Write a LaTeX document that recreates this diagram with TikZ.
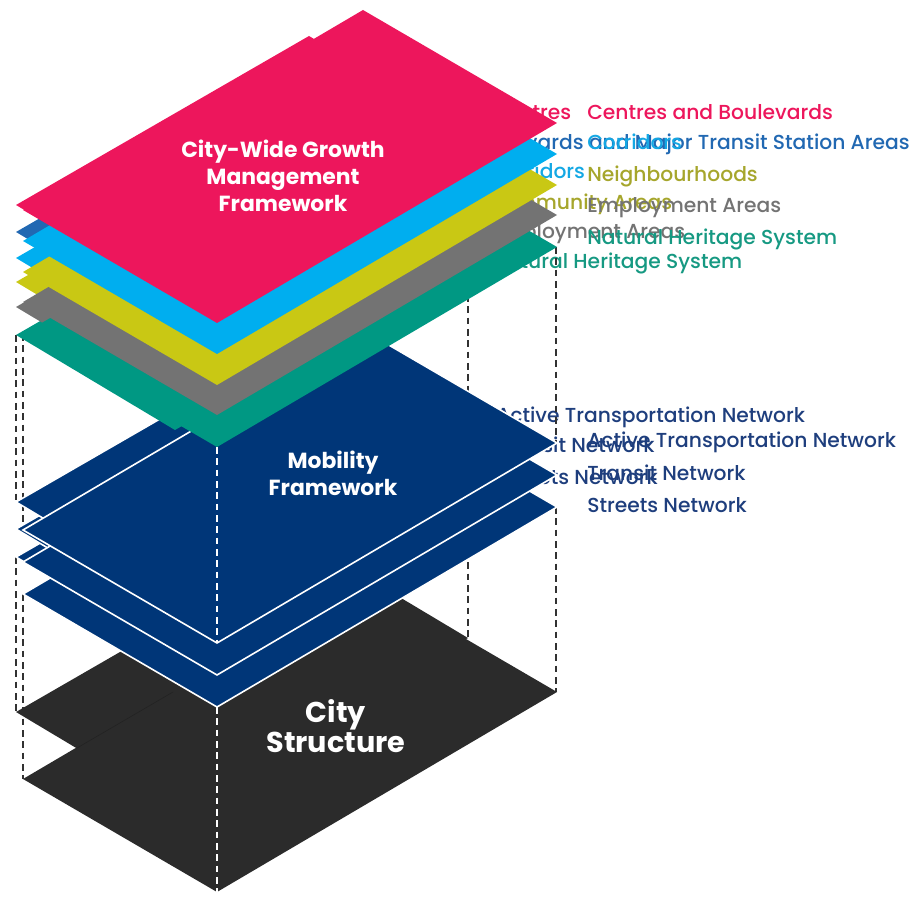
\documentclass[tikz,border=0pt]{standalone}
\usepackage{fontspec}
\setmainfont{Poppins}
\newfontfamily\labelfont{Poppins Medium}
\usepackage{xcolor}

\definecolor{cwPink}{RGB}{237,22,92}
\definecolor{cwBlue}{RGB}{33,104,178}
\definecolor{cwSky}{RGB}{0,174,239}
\definecolor{cwSkyTxt}{RGB}{20,168,228}
\definecolor{cwOlive}{RGB}{201,200,20}
\definecolor{cwOliveTxt}{RGB}{166,166,44}
\definecolor{cwGray}{RGB}{115,115,115}
\definecolor{cwTeal}{RGB}{0,152,131}
\definecolor{cwTealTxt}{RGB}{22,153,130}
\definecolor{cwNavy}{RGB}{0,54,120}
\definecolor{cwNavyTxt}{RGB}{30,62,125}
\definecolor{cwBlack}{RGB}{43,43,43}
\definecolor{cwGuide}{RGB}{50,50,50}

\begin{document}
\begin{tikzpicture}[x=0.75pt,y=0.75pt,yscale=-1,xscale=1,
  mobLayer/.style={fill=cwNavy,draw=white,line width=1.2pt,line join=miter},
  guide/.style={draw=cwGuide,line width=1.2pt,dash pattern=on 5pt off 3.5pt},
  guideWhite/.style={guide,draw=white},
  lbl/.style={anchor=base west,inner sep=0pt,font=\labelfont\fontsize{15.2}{17}\selectfont},
  title/.style={white,align=center,inner sep=0pt,font=\bfseries\fontsize{16.4}{20}\selectfont}]
\useasboundingbox (0,0) rectangle (914,898);

% corners that the guide lines join
\coordinate (tealAL) at (16,335);
\coordinate (tealAR) at (468,261);
\coordinate (tealBL) at (23,334);
\coordinate (tealBBo) at (217,447);
\coordinate (tealBR) at (556,247);
\coordinate (mobAL1) at (16,502);
\coordinate (mobAL3) at (16,557);
\coordinate (mobAR1) at (468,428);
\coordinate (mobAR3) at (468,483);
\coordinate (mobBL1) at (23,530);
\coordinate (mobBL3) at (23,594);
\coordinate (mobBBo1) at (217,643);
\coordinate (mobBBo3) at (217,707);
\coordinate (mobBR1) at (556,443);
\coordinate (mobBR3) at (556,507);
\coordinate (cityAL) at (16,712);
\coordinate (cityAR) at (468,638);
\coordinate (cityBL) at (23,779);
\coordinate (cityBBo) at (217,892);
\coordinate (cityBR) at (556,692);

% Text Node (labels behind the layers)
\node[lbl,cwPink] (labCentresA) at (491,120) {Centres};
\node[lbl,cwBlue] (labBoulevardsA) at (469,150) {Boulevards and Major Transit Station Areas};
\node[lbl,cwSkyTxt] (labCorridorsA) at (490,179) {Corridors};
\node[lbl,cwOliveTxt] (labCommunityA) at (486,210) {Community Areas};
\node[lbl,cwGray] (labEmploymentA) at (491,239) {Employment Areas};
\node[lbl,cwTealTxt] (labHeritageA) at (492,269) {Natural Heritage System};
\node[lbl,cwNavyTxt] (labActiveA) at (496,423) {Active Transportation Network};
\node[lbl,cwNavyTxt] (labTransitA) at (496,453) {Transit Network};
\node[lbl,cwNavyTxt] (labStreetsA) at (498,484) {Streets Network};

%Dashed Lines
\draw[guide] (tealAL) -- (mobAL1) (mobAL3) -- (cityAL);
\draw[guide] (tealBL) -- (mobBL1) (mobBL3) -- (cityBL);
\draw[guide] (tealAR) -- (mobAR1) (mobAR3) -- (cityAR);
\draw[guide] (tealBR) -- (mobBR1) (mobBR3) -- (cityBR);

%Shape: City Structure
\fill[cwBlack] (cityAL) -- ++(293,-169) -- ++(159,95) -- ++(-293,169) -- cycle;
\fill[cwBlack] (cityBL) -- ++(340,-200) -- ++(194,113) -- ++(-340,200) -- cycle;
\draw[cwBlack!80!black,line width=0.4pt] (77,748) -- (173,692);

%Shape: Mobility layers
\draw[mobLayer] (16,557) -- ++(293,-169) -- ++(159,95) -- ++(-293,169) -- cycle;
\draw[mobLayer] (16,529) -- ++(293,-169) -- ++(159,95) -- ++(-293,169) -- cycle;
\draw[mobLayer] (mobAL1) -- ++(293,-169) -- ++(159,95) -- ++(-293,169) -- cycle;
\draw[mobLayer] (mobBL3) -- ++(340,-200) -- ++(194,113) -- ++(-340,200) -- cycle;
\draw[mobLayer] (23,562) -- ++(340,-200) -- ++(194,113) -- ++(-340,200) -- cycle;
\draw[mobLayer] (mobBL1) -- ++(340,-200) -- ++(194,113) -- ++(-340,200) -- cycle;

%Dashed Lines on the layers
\draw[guideWhite] (tealBBo) -- (mobBBo1) (mobBBo3) -- (cityBBo);

%Shape: Growth layers, first outline
\fill[cwTeal] (tealAL) -- ++(293,-169) -- ++(159,95) -- ++(-293,169) -- cycle;
\fill[cwGray] (16,307) -- ++(293,-169) -- ++(159,95) -- ++(-293,169) -- cycle;
\fill[cwOlive] (16,282) -- ++(293,-169) -- ++(159,95) -- ++(-293,169) -- cycle;
\fill[cwSky] (16,258) -- ++(293,-169) -- ++(159,95) -- ++(-293,169) -- cycle;
\fill[cwBlue] (16,232) -- ++(293,-169) -- ++(159,95) -- ++(-293,169) -- cycle;
\fill[cwPink] (16,205) -- ++(293,-169) -- ++(159,95) -- ++(-293,169) -- cycle;

%Shape: Growth layers, second outline
\fill[cwTeal] (tealBL) -- ++(340,-200) -- ++(194,113) -- ++(-340,200) -- cycle;
\fill[cwGray] (23,302) -- ++(340,-200) -- ++(194,113) -- ++(-340,200) -- cycle;
\fill[cwOlive] (23,272) -- ++(340,-200) -- ++(194,113) -- ++(-340,200) -- cycle;
\fill[cwSky] (23,241) -- ++(340,-200) -- ++(194,113) -- ++(-340,200) -- cycle;
\fill[cwPink] (23,210) -- ++(340,-200) -- ++(194,113) -- ++(-340,200) -- cycle;

% Text Node (titles)
\node[title] (growthTitle) at (283,176) {City-Wide Growth\\Management\\Framework};
\node[title] (mobilityTitle) at (333,473) {Mobility\\Framework};
\node[title,font=\bfseries\fontsize{21.5}{22.5}\selectfont] (cityTitle) at (336,726) {City\\Structure};

% Text Node (labels)
\node[lbl,cwPink] (labCentresB) at (587,120) {Centres and Boulevards};
\node[lbl,cwSkyTxt] (labCorridorsB) at (587,150) {Corridors};
\node[lbl,cwOliveTxt] (labNeighbourhoodsB) at (587,182) {Neighbourhoods};
\node[lbl,cwGray] (labEmploymentB) at (587,213) {Employment Areas};
\node[lbl,cwTealTxt] (labHeritageB) at (587,245) {Natural Heritage System};
\node[lbl,cwNavyTxt] (labActiveB) at (587,448) {Active Transportation Network};
\node[lbl,cwNavyTxt] (labTransitB) at (587,480) {Transit Network};
\node[lbl,cwNavyTxt] (labStreetsB) at (587,512) {Streets Network};

\end{tikzpicture}
\end{document}
